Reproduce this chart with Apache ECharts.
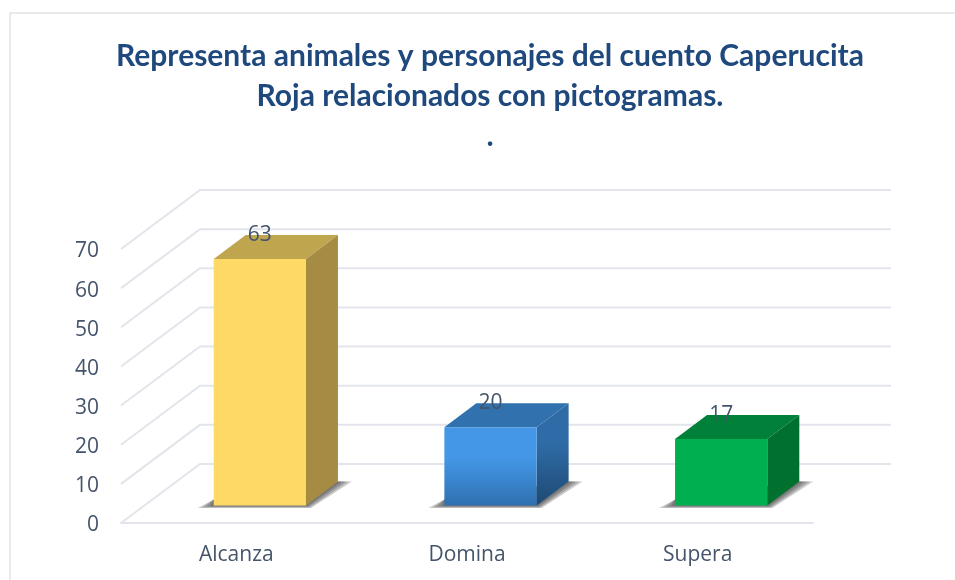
<!DOCTYPE html>
<html>
<head>
<meta charset="utf-8">
<title>Caperucita Roja</title>
<script src="https://cdn.jsdelivr.net/npm/echarts@6/dist/echarts.min.js"></script>
<style>
  html, body { margin: 0; padding: 0; background: #fff; }
  #chart { width: 955px; height: 580px; }
</style>
</head>
<body>
<div id="chart"></div>
<script>
var categories = ['Alcanza', 'Domina', 'Supera'];
var values = [63, 20, 17];
var tickValues = [0, 10, 20, 30, 40, 50, 60, 70];

var LABEL_COLOR = '#44546a';
var GRID_COLOR = '#e2e5eb';

// depth of the fake 3d box
var WALL_DX = 79, WALL_DY = -59;
var BAR_DX = 23.5, BAR_DY = -17.5;
var BOX_DX = 32, BOX_DY = -24;

function vgrad(a, b) {
  return { type: 'linear', x: 0, y: 0, x2: 0, y2: 1, colorStops: [{ offset: 0, color: a }, { offset: 0.4, color: a }, { offset: 1, color: b }] };
}

var faces = [
  { front: '#ffd966', top: '#bfa64e', side: '#a68c42' },
  { front: vgrad('#4397e6', '#2f70b0'), top: '#3071ae', side: vgrad('#2f6ba6', '#1e4a72') },
  { front: '#00b050', top: '#008038', side: '#00702e' }
];

function renderWall(params, api) {
  var p = api.coord([0, api.value(1)]);
  var cs = params.coordSys;
  return {
    type: 'polyline',
    shape: { points: [[cs.x, p[1]], [cs.x + WALL_DX, p[1] + WALL_DY], [cs.x + cs.width + WALL_DX - 1, p[1] + WALL_DY]] },
    style: { stroke: GRID_COLOR, lineWidth: 2, fill: null }
  };
}

function renderBox(params, api) {
  var i = api.value(0);
  var top = api.coord([i, api.value(1)]);
  var base = api.coord([i, 0]);
  var w = api.size([1, 0])[0] * 0.4;
  var x0 = top[0] - w / 2 + BAR_DX, x1 = x0 + w;
  var yt = top[1] + BAR_DY, yb = base[1] + BAR_DY;
  var f = faces[i];
  var children = [];
  // soft floor shadow, a few stacked layers
  [1, 0.75, 0.5, 0.25].forEach(function (k) {
    children.push({
      type: 'polygon',
      shape: { points: [[x0 - 16 * k, yb + 2.5 * k], [x0, yb - 6], [x1 + BOX_DX, yb + BOX_DY], [x1 + BOX_DX + 14 * k, yb + BOX_DY], [x1 + 5 * k, yb + 2.5 * k]] },
      style: { fill: 'rgba(60,60,60,0.25)' }
    });
  });
  children.push(
    {
      type: 'polygon',
      shape: { points: [[x0, yt], [x0 + BOX_DX, yt + BOX_DY], [x1 + BOX_DX, yt + BOX_DY], [x1, yt]] },
      style: { fill: f.top }
    },
    {
      type: 'polygon',
      shape: { points: [[x1, yt], [x1 + BOX_DX, yt + BOX_DY], [x1 + BOX_DX, yb + BOX_DY], [x1, yb]] },
      style: { fill: f.side }
    },
    {
      type: 'rect',
      shape: { x: x0, y: yt, width: w, height: yb - yt },
      style: { fill: f.front }
    },
    {
      type: 'text',
      style: {
        x: (x0 + x1) / 2, y: yt - 24,
        text: String(api.value(1)),
        fill: LABEL_COLOR, font: '21px "Open Sans"',
        align: 'center', verticalAlign: 'middle'
      }
    }
  );
  return { type: 'group', children: children };
}

var chart = echarts.init(document.getElementById('chart'), null, { renderer: 'canvas' });
chart.setOption({
  animation: false,
  backgroundColor: '#ffffff',
  title: {
    text: 'Representa animales y personajes del cuento Caperucita\nRoja relacionados con pictogramas.\n.',
    left: 485,
    top: 31,
    textAlign: 'center',
    textStyle: {
      color: '#1f497d',
      fontFamily: 'Lato',
      fontWeight: 'bold',
      fontSize: 30,
      lineHeight: 40
    }
  },
  graphic: [{
    type: 'polyline',
    silent: true,
    shape: { points: [[10, 580], [10, 13], [955, 13]] },
    style: { stroke: '#e4e4e4', lineWidth: 1.5, fill: null }
  }],
  grid: { left: 121, right: 142, top: 249, bottom: 57 },
  xAxis: {
    type: 'category',
    data: categories,
    axisTick: { show: false },
    axisLine: { lineStyle: { color: GRID_COLOR, width: 2 } },
    axisLabel: { color: LABEL_COLOR, fontFamily: 'Open Sans', fontSize: 21, margin: 22 }
  },
  yAxis: {
    type: 'value',
    min: 0,
    max: 70,
    interval: 10,
    splitLine: { show: false },
    axisLine: { show: false },
    axisTick: { show: false },
    axisLabel: {
      margin: 22,
      formatter: '{v|{value}}',
      rich: { v: { color: LABEL_COLOR, fontFamily: 'Open Sans', fontSize: 21, padding: [5, 0, 0, 0] } }
    }
  },
  series: [
    {
      type: 'custom',
      name: 'walls',
      silent: true,
      clip: false,
      z: 1,
      renderItem: renderWall,
      data: tickValues.map(function (v) { return [0, v]; })
    },
    {
      type: 'custom',
      name: 'valores',
      clip: false,
      z: 2,
      renderItem: renderBox,
      encode: { x: 0, y: 1 },
      data: values.map(function (v, i) { return [i, v]; })
    }
  ]
});
</script>
</body>
</html>
